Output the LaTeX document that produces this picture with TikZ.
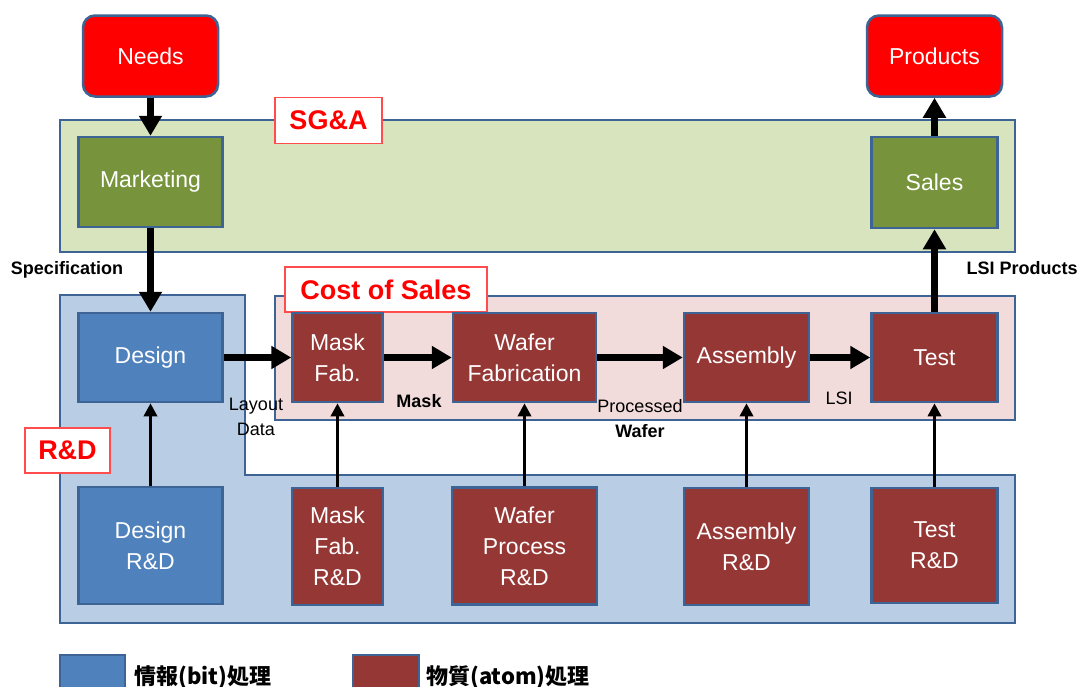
\documentclass[tikz,border=0pt]{standalone}
\usepackage{fontspec}
\setmainfont{Liberation Sans}
\newfontfamily\cjk{Noto Sans CJK JP}
\usetikzlibrary{arrows.meta}
\definecolor{bord}{HTML}{3E6496}
\definecolor{greenbg}{HTML}{D7E4BD}
\definecolor{greenbox}{HTML}{77933C}
\definecolor{bluebg}{HTML}{B9CDE5}
\definecolor{bluebox}{HTML}{4F81BD}
\definecolor{redbox}{HTML}{953735}
\definecolor{pinkbg}{HTML}{F2DCDB}
\definecolor{needsred}{HTML}{FF0000}
\definecolor{labred}{HTML}{FF4D4D}
\tikzset{
  box/.style={draw=bord, line width=2.5pt, text=white, align=center, inner sep=0pt,
    font=\fontsize{23}{31}\selectfont},
  redbox/.style={box, fill=redbox},
  bluebox/.style={box, fill=bluebox},
  greenbox/.style={box, fill=greenbox},
  endbox/.style={box, fill=needsred, rounded corners=12pt},
  region/.style={draw=bord, line width=2.5pt},
  tag/.style={draw=labred, line width=1.5pt, fill=white, text=red, inner sep=0pt,
    font=\bfseries\fontsize{27}{32}\selectfont},
  small/.style={inner sep=0pt, align=center, font=\fontsize{18}{25}\selectfont},
  smallb/.style={small, font=\bfseries\fontsize{18}{25}\selectfont},
  thick arrow/.style={line width=7pt, -{Triangle[width=22pt,length=20pt]}},
  thin arrow/.style={line width=3.5pt, -{Triangle[width=13pt,length=13pt]}},
  legtext/.style={anchor=west, inner sep=0pt, font=\cjk\bfseries\fontsize{22}{26}\selectfont}
}
\begin{document}
\begin{tikzpicture}[x=1pt,y=-1pt]
\clip (0,0) rectangle (1081,686);
\fill[white] (0,0) rectangle (1081,686);
% regions
\draw[region, fill=greenbg] (60,120) rectangle (1015,252);
\draw[region, fill=bluebg] (60,295) -- (245,295) -- (245,475) -- (1015,475) -- (1015,623) -- (60,623) -- cycle;
\draw[region, fill=pinkbg] (275,296) rectangle (1015,420);
% tags
\node[tag, minimum width=107pt, minimum height=46pt] (sga) at (328.5,120.5) {SG\&A};
\node[tag, minimum width=202pt, minimum height=45pt] (cos) at (386,289.5) {Cost of Sales};
\node[tag, minimum width=85pt, minimum height=45pt] (rd) at (67.5,450.5) {R\&D};
% end nodes
\node[endbox, minimum width=135pt, minimum height=81pt] (needs) at (150.5,56) {Needs};
\node[endbox, minimum width=135pt, minimum height=81pt] (products) at (934.5,56) {Products};
% SG&A
\node[greenbox, minimum width=144pt, minimum height=90pt] (marketing) at (150.5,182) {Marketing};
\node[greenbox, minimum width=126pt, minimum height=91pt] (sales) at (934.5,182.5) {Sales};
% main row
\node[bluebox, minimum width=144pt, minimum height=89pt] (design) at (150.5,357.5) {Design};
\node[redbox, minimum width=90pt, minimum height=89pt] (maskfab) at (337.5,357.5) {Mask\\Fab.};
\node[redbox, minimum width=143pt, minimum height=89pt] (waferfab) at (524.5,357.5) {Wafer\\Fabrication};
\node[redbox, minimum width=125pt, minimum height=89pt] (assembly) at (746.5,357.5) {Assembly};
\node[redbox, minimum width=126pt, minimum height=89pt] (test) at (934.5,357.5) {Test};
% R&D row
\node[bluebox, minimum width=144pt, minimum height=117pt] (designrd) at (150.5,545.5) {Design\\R\&D};
\node[redbox, minimum width=91pt, minimum height=117pt] (maskrd) at (337.5,546.5) {Mask\\Fab.\\R\&D};
\node[redbox, minimum width=145pt, minimum height=117pt] (waferrd) at (524.5,546) {Wafer\\Process\\R\&D};
\node[redbox, minimum width=125pt, minimum height=117pt] (assemblyrd) at (746.5,546.5) {Assembly\\R\&D};
\node[redbox, minimum width=126pt, minimum height=115pt] (testrd) at (934.5,545.5) {Test\\R\&D};
% arrows
\draw[thick arrow] (needs) -- (marketing);
\draw[thick arrow] (marketing) -- (design);
\draw[thick arrow] (design) -- (maskfab);
\draw[thick arrow] (maskfab) -- (waferfab);
\draw[thick arrow] (waferfab) -- (assembly);
\draw[thick arrow] (assembly) -- (test);
\draw[thick arrow] (test) -- (sales);
\draw[thick arrow] (sales) -- (products);
\draw[thin arrow] (designrd) -- (design);
\draw[thin arrow] (maskrd) -- (maskfab);
\draw[thin arrow] (waferrd) -- (waferfab);
\draw[thin arrow] (assemblyrd) -- (assembly);
\draw[thin arrow] (testrd) -- (test);
% flow labels
\node[smallb] (spec) at (67,270) {Specification};
\node[smallb] (lsip) at (1022,268) {LSI Products};
\node[small] (layout) at (256,417) {Layout\\Data};
\node[smallb] (mask) at (419,401) {Mask};
\node[small] (procw) at (640,419) {Processed\\\textbf{Wafer}};
\node[small] (lsi) at (839,398) {LSI};
% legend
\draw[draw=bord, line width=2.5pt, fill=bluebox] (60,655) rectangle (125,700);
\draw[draw=bord, line width=2.5pt, fill=redbox] (353,655) rectangle (419,700);
\node[legtext] (leg1) at (134,677) {情報(bit)処理};
\node[legtext] (leg2) at (426,677) {物質(atom)処理};
\end{tikzpicture}
\end{document}
